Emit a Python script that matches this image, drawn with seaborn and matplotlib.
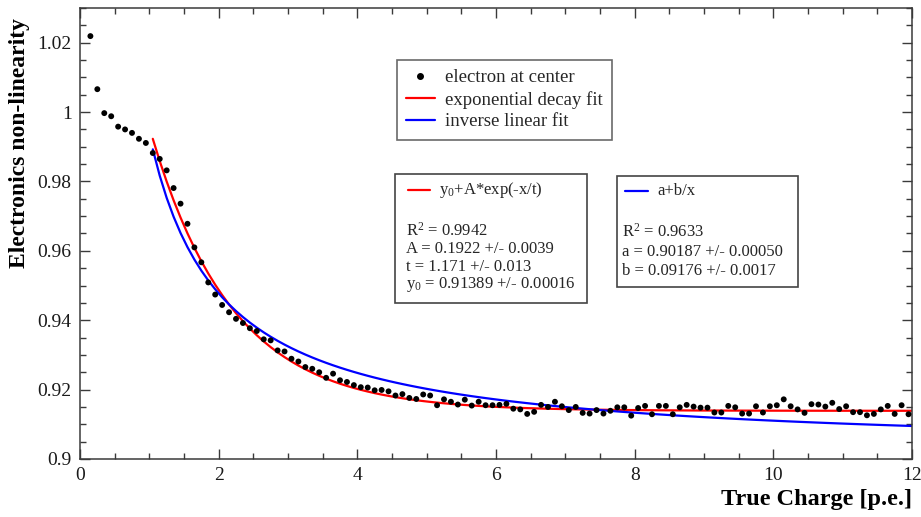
import numpy as np
import pandas as pd
import matplotlib
matplotlib.use("Agg")
import matplotlib.pyplot as plt
from matplotlib.lines import Line2D
from matplotlib.patches import Rectangle
from matplotlib.ticker import MultipleLocator, FuncFormatter
import seaborn as sns

# ---------------- data ----------------
charge = [0.15, 0.25, 0.35, 0.45, 0.55, 0.65, 0.75, 0.85, 0.95, 1.05,
          1.15, 1.25, 1.35, 1.45, 1.55, 1.65, 1.75, 1.85, 1.95, 2.05,
          2.15, 2.25, 2.35, 2.45, 2.55, 2.65, 2.75, 2.85, 2.95, 3.05,
          3.15, 3.25, 3.35, 3.45, 3.55, 3.65, 3.75, 3.85, 3.95, 4.05,
          4.15, 4.25, 4.35, 4.45, 4.55, 4.65, 4.75, 4.85, 4.95, 5.05,
          5.15, 5.25, 5.35, 5.45, 5.55, 5.65, 5.75, 5.85, 5.95, 6.05,
          6.15, 6.25, 6.35, 6.45, 6.55, 6.65, 6.75, 6.85, 6.95, 7.05,
          7.15, 7.25, 7.35, 7.45, 7.55, 7.65, 7.75, 7.85, 7.95, 8.05,
          8.15, 8.25, 8.35, 8.45, 8.55, 8.65, 8.75, 8.85, 8.95, 9.05,
          9.15, 9.25, 9.35, 9.45, 9.55, 9.65, 9.75, 9.85, 9.95, 10.05,
          10.15, 10.25, 10.35, 10.45, 10.55, 10.65, 10.75, 10.85, 10.95, 11.05,
          11.15, 11.25, 11.35, 11.45, 11.55, 11.65, 11.75, 11.85, 11.95]
nonlinearity = [1.0219, 1.0066, 0.9997, 0.9988, 0.9958, 0.9950, 0.9940, 0.9923, 0.9911, 0.9882,
                0.9865, 0.9832, 0.9781, 0.9736, 0.9678, 0.9610, 0.9567, 0.9509, 0.9474, 0.9444,
                0.9423, 0.9404, 0.9392, 0.9377, 0.9369, 0.9345, 0.9342, 0.9313, 0.9310, 0.9289,
                0.9281, 0.9265, 0.9260, 0.9250, 0.9234, 0.9246, 0.9227, 0.9222, 0.9213, 0.9207,
                0.9206, 0.9198, 0.9199, 0.9195, 0.9183, 0.9187, 0.9176, 0.9173, 0.9186, 0.9183,
                0.9155, 0.9172, 0.9165, 0.9157, 0.9171, 0.9154, 0.9165, 0.9155, 0.9155, 0.9156,
                0.9159, 0.9145, 0.9143, 0.9130, 0.9136, 0.9156, 0.9150, 0.9165, 0.9152, 0.9141,
                0.9150, 0.9133, 0.9131, 0.9141, 0.9131, 0.9139, 0.9149, 0.9149, 0.9125, 0.9147,
                0.9153, 0.9129, 0.9153, 0.9153, 0.9129, 0.9149, 0.9156, 0.9151, 0.9148, 0.9148,
                0.9134, 0.9134, 0.9153, 0.9149, 0.9131, 0.9131, 0.9152, 0.9134, 0.9152, 0.9155,
                0.9172, 0.9152, 0.9143, 0.9133, 0.9158, 0.9157, 0.9151, 0.9162, 0.9144, 0.9152,
                0.9135, 0.9135, 0.9126, 0.9130, 0.9143, 0.9153, 0.9130, 0.9155, 0.9129]

# fit parameters (as printed in the boxes)
exp_y0, exp_A, exp_t = 0.91389, 0.1922, 1.171
inv_a, inv_b = 0.90187, 0.09176
fit_start, fit_end = 1.05, 12.0

x_ticks = [0, 2, 4, 6, 8, 10, 12]
y_ticks = [0.9, 0.92, 0.94, 0.96, 0.98, 1.0, 1.02]

df = pd.DataFrame({"charge": charge, "nl": nonlinearity})
xf = np.array([c for c in charge if c >= fit_start] + [fit_end])
fit_df = pd.DataFrame({
    "charge": xf,
    "exp": exp_y0 + exp_A * np.exp(-xf / exp_t),
    "inv": inv_a + inv_b / xf,
})

# ---------------- style ----------------
sns.set_theme(style="white")
SERIF = ["Liberation Serif", "DejaVu Serif"]
plt.rcParams["font.family"] = SERIF
plt.rcParams["mathtext.fontset"] = "custom"
plt.rcParams["mathtext.rm"] = "Liberation Serif"
plt.rcParams["mathtext.it"] = "Liberation Serif:italic"
plt.rcParams["mathtext.bf"] = "Liberation Serif:bold"

W, H = 921, 517
fig = plt.figure(figsize=(W / 100, H / 100), dpi=100)
L, R, B, T = 80, 912, 459, 8
ax = fig.add_axes([L / W, 1 - B / H, (R - L) / W, (B - T) / H])

sns.scatterplot(data=df, x="charge", y="nl", ax=ax, color="black", s=18,
                edgecolor="none", zorder=3, label="electron at center", legend=False)
sns.lineplot(data=fit_df, x="charge", y="exp", ax=ax, color="#ff0000", lw=1.6,
             zorder=2, label="exponential decay fit", legend=False)
sns.lineplot(data=fit_df, x="charge", y="inv", ax=ax, color="#0000ff", lw=1.6,
             zorder=2, label="inverse linear fit", legend=False)

ax.set_xlim(0, 12)
ax.set_ylim(0.9, 1.03)
ax.set_xticks(x_ticks)
ax.set_yticks(y_ticks)
ax.xaxis.set_minor_locator(MultipleLocator(0.5))
ax.yaxis.set_minor_locator(MultipleLocator(0.005))
ax.yaxis.set_major_formatter(FuncFormatter(lambda v, p: f"{v:g}"))
ax.xaxis.set_major_formatter(FuncFormatter(lambda v, p: f"{v:g}"))
axis_col = "#3a3a3a"
for s in ax.spines.values():
    s.set_visible(True)
    s.set_color(axis_col)
    s.set_linewidth(1.1)
ax.tick_params(which="both", direction="in", top=True, right=True,
               bottom=True, left=True, color=axis_col, width=1.0)
ax.tick_params(which="major", length=7.5, labelsize=14, pad=6, labelcolor="#1a1a1a")
ax.tick_params(which="minor", length=4.5)
ax.set_xlabel("")
ax.set_ylabel("")

fig.text(R / W, 1 - 499 / H, "True Charge [p.e.]", ha="right", va="center",
         fontsize=17.5, fontweight="bold", color="black")
fig.text(20 / W, 1 - 18 / H, "Electronics non-linearity", ha="center", va="top",
         rotation=90, fontsize=17, fontweight="bold", color="black")

# ---------------- legend box ----------------
handles = [
    Line2D([], [], marker="o", ls="none", color="black", markersize=4),
    Line2D([], [], color="#ff0000", lw=1.6),
    Line2D([], [], color="#0000ff", lw=1.6),
]
labels = ["electron at center", "exponential decay fit", "inverse linear fit"]
leg = ax.legend(handles, labels, loc="upper left",
                bbox_to_anchor=(397 / W, 1 - 60 / H), bbox_transform=fig.transFigure,
                frameon=True, fancybox=False, fontsize=13.5, handlelength=1.5,
                handletextpad=0.55, labelspacing=0.23, borderpad=0.5,
                borderaxespad=0)
leg.get_frame().set_edgecolor("#444444")
leg.get_frame().set_linewidth(1.2)

# ---------------- fit result boxes ----------------
def px(x, y):
    return (x / W, 1 - y / H)

def box(x0, y0, x1, y1):
    fig.patches.append(Rectangle(px(x0, y1), (x1 - x0) / W, (y1 - y0) / H,
                                 transform=fig.transFigure, fill=True,
                                 facecolor="white", edgecolor="#444444", lw=1.2,
                                 zorder=5))

box(395, 174, 587, 303)
fig.add_artist(Line2D([408 / W, 430 / W], [1 - 190 / H] * 2, color="#ff0000", lw=1.6,
                      transform=fig.transFigure, zorder=6))
fig.text(*px(439, 190), "y$_0$+A*exp(-x/t)", fontsize=12, va="center", ha="left", zorder=6)
exp_lines = ["R$^2$ = 0.9942", "A = 0.1922 +/- 0.0039", "t = 1.171 +/- 0.013",
             "y$_0$ = 0.91389 +/- 0.00016"]
for i, t in enumerate(exp_lines):
    fig.text(*px(406, 231 + 18 * i), t, fontsize=12, va="center", ha="left", zorder=6)

box(617, 176, 798, 287)
fig.add_artist(Line2D([625 / W, 648 / W], [1 - 191 / H] * 2, color="#0000ff", lw=1.6,
                      transform=fig.transFigure, zorder=6))
fig.text(*px(657, 191), "a+b/x", fontsize=12, va="center", ha="left", zorder=6)
inv_lines = ["R$^2$ = 0.9633", "a = 0.90187 +/- 0.00050", "b = 0.09176 +/- 0.0017"]
for i, t in enumerate(inv_lines):
    fig.text(*px(622, 232 + 19.5 * i), t, fontsize=12, va="center", ha="left", zorder=6)

fig.savefig("out.png", dpi=100, facecolor="white")
